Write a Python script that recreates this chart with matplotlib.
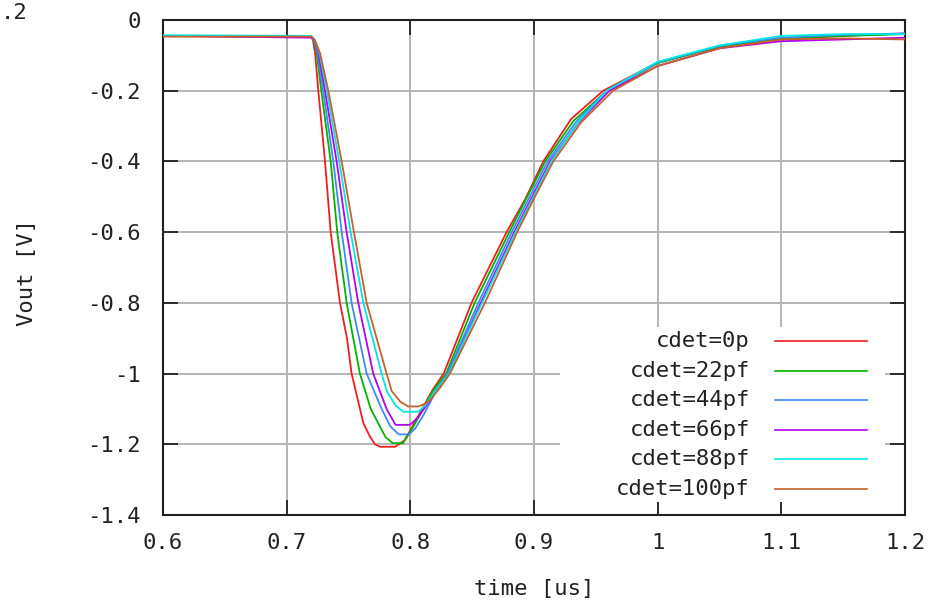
import matplotlib
matplotlib.use('Agg')
import matplotlib.pyplot as plt
from matplotlib.patches import Rectangle

# ** values (time in us, Vout in V) **
t_0p = [0.600, 0.720, 0.7213, 0.723, 0.7256, 0.731, 0.7356, 0.7431, 0.7488, 0.7525, 0.762, 0.7673,
        0.7714, 0.7755, 0.7877, 0.795, 0.800, 0.808, 0.818, 0.827, 0.8495, 0.8778, 0.8926, 0.9075,
        0.930, 0.956, 1.000, 1.050, 1.100, 1.150, 1.200]
v_0p = [-0.045, -0.047, -0.057, -0.094, -0.200, -0.400, -0.600, -0.800, -0.900, -1.000, -1.140, -1.178,
        -1.200, -1.207, -1.207, -1.190, -1.160, -1.110, -1.046, -1.000, -0.800, -0.600, -0.509, -0.400,
        -0.280, -0.200, -0.120, -0.075, -0.055, -0.045, -0.038]

t_22p = [0.600, 0.720, 0.7218, 0.7243, 0.728, 0.7356, 0.7409, 0.7485, 0.7592, 0.768, 0.774, 0.780,
         0.786, 0.794, 0.800, 0.808, 0.818, 0.829, 0.852, 0.880, 0.909, 0.932, 0.959, 1.000, 1.050,
         1.100, 1.150, 1.200]
v_22p = [-0.045, -0.047, -0.057, -0.094, -0.200, -0.400, -0.600, -0.800, -1.000, -1.100, -1.140, -1.180,
         -1.197, -1.197, -1.165, -1.115, -1.050, -1.000, -0.800, -0.600, -0.400, -0.285, -0.200, -0.122,
         -0.075, -0.053, -0.045, -0.040]

t_44p = [0.600, 0.720, 0.7222, 0.725, 0.7295, 0.7377, 0.7445, 0.7525, 0.7647, 0.7768, 0.784, 0.7906,
         0.799, 0.804, 0.811, 0.820, 0.830, 0.855, 0.882, 0.911, 0.934, 0.9587, 1.000, 1.050, 1.100,
         1.150, 1.200]
v_44p = [-0.045, -0.047, -0.057, -0.094, -0.200, -0.400, -0.600, -0.800, -1.000, -1.100, -1.150, -1.172,
         -1.172, -1.155, -1.115, -1.055, -1.000, -0.800, -0.600, -0.400, -0.288, -0.200, -0.120, -0.073,
         -0.050, -0.042, -0.038]

t_66p = [0.600, 0.720, 0.7225, 0.7258, 0.731, 0.7404, 0.7485, 0.7579, 0.770, 0.7808, 0.788, 0.7996,
         0.806, 0.813, 0.821, 0.831, 0.857, 0.884, 0.913, 0.936, 0.961, 1.000, 1.050, 1.100, 1.150, 1.200]
v_66p = [-0.045, -0.050, -0.057, -0.094, -0.200, -0.400, -0.600, -0.800, -1.000, -1.100, -1.145, -1.145,
         -1.125, -1.090, -1.045, -1.000, -0.800, -0.600, -0.400, -0.290, -0.200, -0.130, -0.080, -0.060,
         -0.055, -0.050]

t_88p = [0.600, 0.720, 0.7227, 0.7265, 0.7325, 0.7425, 0.7517, 0.762, 0.7768, 0.781, 0.788, 0.7943,
         0.8065, 0.812, 0.820, 0.831, 0.858, 0.885, 0.914, 0.936, 0.9587, 1.000, 1.050, 1.100, 1.150, 1.200]
v_88p = [-0.043, -0.045, -0.057, -0.094, -0.200, -0.400, -0.600, -0.800, -1.000, -1.050, -1.090, -1.108,
         -1.108, -1.090, -1.050, -1.000, -0.800, -0.600, -0.400, -0.288, -0.200, -0.118, -0.072, -0.045,
         -0.040, -0.040]

t_100p = [0.600, 0.720, 0.7229, 0.727, 0.7337, 0.7445, 0.7544, 0.7647, 0.7808, 0.785, 0.792, 0.7983,
          0.8065, 0.812, 0.816, 0.824, 0.832, 0.8603, 0.8864, 0.8994, 0.9156, 0.938, 0.9639, 1.000,
          1.050, 1.100, 1.150, 1.200]
v_100p = [-0.047, -0.047, -0.057, -0.094, -0.200, -0.400, -0.600, -0.800, -1.000, -1.050, -1.080, -1.093,
          -1.093, -1.085, -1.075, -1.040, -1.000, -0.800, -0.600, -0.509, -0.400, -0.290, -0.200, -0.130,
          -0.080, -0.055, -0.052, -0.055]

labels = ['cdet=0p', 'cdet=22pf', 'cdet=44pf', 'cdet=66pf', 'cdet=88pf', 'cdet=100pf']
colors = ['#f01e1e', '#00b400', '#3c8cf0', '#b400f0', '#00e6e6', '#c8602a']
times = [t_0p, t_22p, t_44p, t_66p, t_88p, t_100p]
volts = [v_0p, v_22p, v_44p, v_66p, v_88p, v_100p]

x_ticks = [0.6, 0.7, 0.8, 0.9, 1.0, 1.1, 1.2]
y_ticks = [0, -0.2, -0.4, -0.6, -0.8, -1.0, -1.2, -1.4]

plt.rcParams['font.family'] = ['DejaVu Sans Mono', 'DejaVu Sans']
plt.rcParams['font.size'] = 16
plt.rcParams['axes.unicode_minus'] = False

fig = plt.figure(figsize=(9.47, 6.05), dpi=100)
ax = fig.add_axes([163 / 947, 1 - 515 / 605, 742 / 947, 495 / 605])

ax.set_xlim(0.6, 1.2)
ax.set_ylim(-1.4, 0)
ax.set_xticks(x_ticks)
ax.set_yticks(y_ticks)
ax.set_xticklabels(['%g' % v for v in x_ticks])
ax.set_yticklabels(['%g' % v for v in y_ticks])
ax.grid(True, color='#b4b4b4', linewidth=1.4, zorder=0)
ax.set_axisbelow(True)
ax.tick_params(direction='in', length=11, width=1.3, top=True, right=True,
               color='#202020', labelcolor='#222222')
ax.tick_params(axis='y', pad=16)
ax.tick_params(axis='x', pad=13)
for s in ax.spines.values():
    s.set_linewidth(1.5)
    s.set_color('#202020')

# legend box erases the grid behind it
ax.add_patch(Rectangle((0.535, 0.026), 0.438, 0.354, transform=ax.transAxes,
                       facecolor='white', edgecolor='none', zorder=1))

for t, v, c in zip(times, volts, colors):
    ax.plot(t, v, color=c, linewidth=1.3, zorder=3)

# legend drawn by hand: text right aligned, sample line to the right
row_y = 0.351
for lab, c in zip(labels, colors):
    ax.text(0.791, row_y, lab, transform=ax.transAxes, ha='right', va='center',
            color='#222222', zorder=4)
    ax.plot([0.825, 0.949], [row_y, row_y], transform=ax.transAxes, color=c,
            linewidth=1.2, zorder=4)
    row_y -= 0.0595

ax.set_xlabel('time [us]', color='#222222', labelpad=19)
ax.set_ylabel('Vout [V]', color='#222222')
ax.yaxis.set_label_coords(-0.17, 0.49)

# piece of a neighbouring label cut by the crop
fig.text(27 / 947, 1 - 13 / 605, '.2', ha='right', va='center', color='#222222')

fig.savefig('out.png', dpi=100)
